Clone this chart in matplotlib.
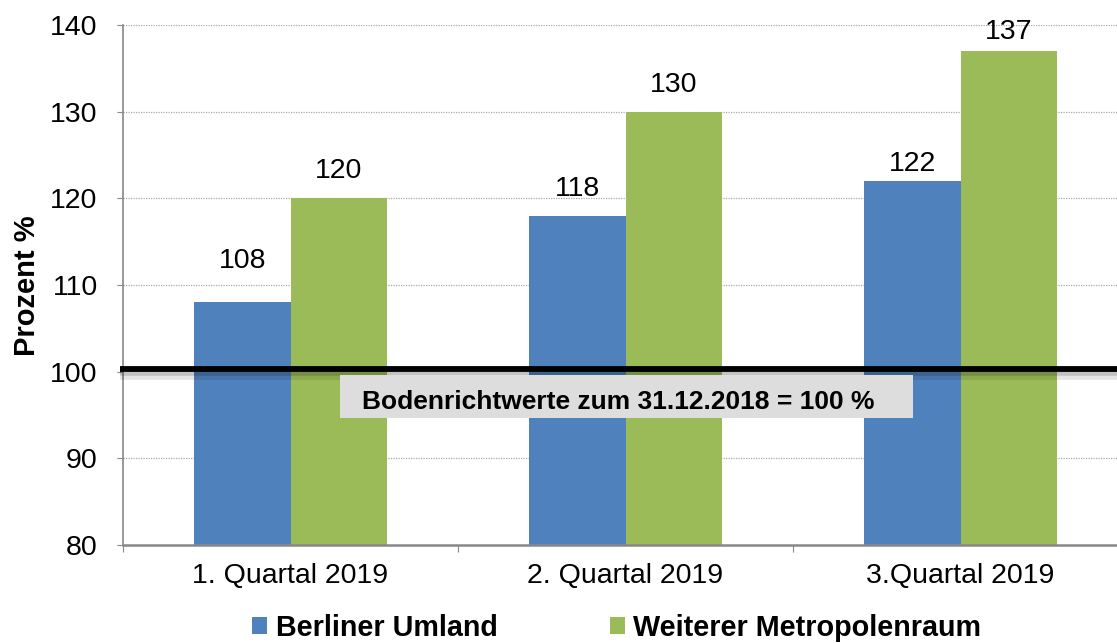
import matplotlib
matplotlib.use("Agg")
import matplotlib.pyplot as plt
import matplotlib.patheffects as pe
from matplotlib.patches import Patch, Rectangle
import numpy as np

categories = ["1. Quartal 2019", "2. Quartal 2019", "3.Quartal 2019"]
series_names = ["Berliner Umland", "Weiterer Metropolenraum"]
berliner_umland = [108, 118, 122]
weiterer_metropolenraum = [120, 130, 137]
baseline = 100
baseline_label = "Bodenrichtwerte zum 31.12.2018 = 100 %"
yticks = [80, 90, 100, 110, 120, 130, 140]

# label gap above each bar (pixels) – labels were placed individually in the original
gap_blue = [34, 20, 10]
gap_green = [20, 20, 12]

plt.rcParams['font.family'] = ['Liberation Sans', 'DejaVu Sans']

W, H = 1117, 643
fig = plt.figure(figsize=(W/100, H/100), dpi=100)
left, right, top, bottom = 123, 1128, 25, 545
ax = fig.add_axes([left/W, 1-bottom/H, (right-left)/W, (bottom-top)/H])

x = np.arange(len(categories))
bw = 0.2866
colors = ["#4F81BD", "#9BBB59"]
b1 = ax.bar(x - bw/2, berliner_umland, bw, color=colors[0], zorder=2)
b2 = ax.bar(x + bw/2, weiterer_metropolenraum, bw, color=colors[1], zorder=2)
for bars, vals, gaps in ((b1, berliner_umland, gap_blue), (b2, weiterer_metropolenraum, gap_green)):
    for r, v, g in zip(bars, vals, gaps):
        ax.annotate(f"{v}", (r.get_x() + r.get_width()/2, v), xytext=(0, g*0.72),
                    textcoords="offset points", ha="center", va="baseline",
                    fontsize=20.5, color="black", zorder=5, annotation_clip=False)

ax.set_xlim(-0.5, 2.5)
ax.set_ylim(80, 140)
ax.set_yticks(yticks)
ax.tick_params(axis="y", labelsize=20.5, length=4.5, color="#888888", direction="out", pad=13.7)
ax.set_xticks(np.arange(len(categories) + 1) - 0.5, minor=False)
ax.set_xticklabels([])
ax.set_xticks(x, minor=True)
ax.set_xticklabels(categories, minor=True, fontsize=20.5)
ax.tick_params(axis="x", which="major", length=5, color="#888888", direction="out")
ax.tick_params(axis="x", which="minor", length=0, pad=13)
for t in [90, 110, 120, 130, 140]:
    ax.axhline(t, color="#AAAAAA", lw=0.9, ls=(0, (1, 1)), zorder=1)
for s in ["top", "right"]:
    ax.spines[s].set_visible(False)
ax.spines["left"].set_color("#888888")
ax.spines["bottom"].set_color("#888888")
ax.spines["left"].set_linewidth(1.2)
ax.spines["bottom"].set_linewidth(1.8)

# baseline with soft shadow
ax.plot([-0.51, 2.5], [baseline + 0.3, baseline + 0.3], color="black", lw=4.2, zorder=4, clip_on=False,
        solid_capstyle="butt",
        path_effects=[pe.SimpleLineShadow(offset=(0, -4), shadow_color="black", alpha=0.10, linewidth=7),
                      pe.SimpleLineShadow(offset=(0, -3), shadow_color="black", alpha=0.15, linewidth=4),
                      pe.Normal()])
ax.set_ylabel("Prozent %", fontsize=21, fontweight="bold")
ax.yaxis.set_label_coords(-0.0816, 0.499)

# label box below the baseline
ax.add_patch(Rectangle((0.148, 94.69), 1.71, 4.96, facecolor="#DDDDDD", edgecolor="none", zorder=6))
ax.text(0.9776, 95.73, baseline_label, ha="center", va="baseline", fontsize=19, fontweight="bold", zorder=7)

handles = [Patch(facecolor=c, edgecolor="none") for c in colors]
leg = fig.legend(handles, series_names, loc="center", bbox_to_anchor=(616.5/W, 1-628/H), ncol=2,
                 frameon=False, prop=dict(size=20.7, weight="bold"),
                 handlelength=0.55, handleheight=0.55, handletextpad=0.28, columnspacing=3.9,
                 borderaxespad=0)

fig.savefig("out.png", dpi=100)
